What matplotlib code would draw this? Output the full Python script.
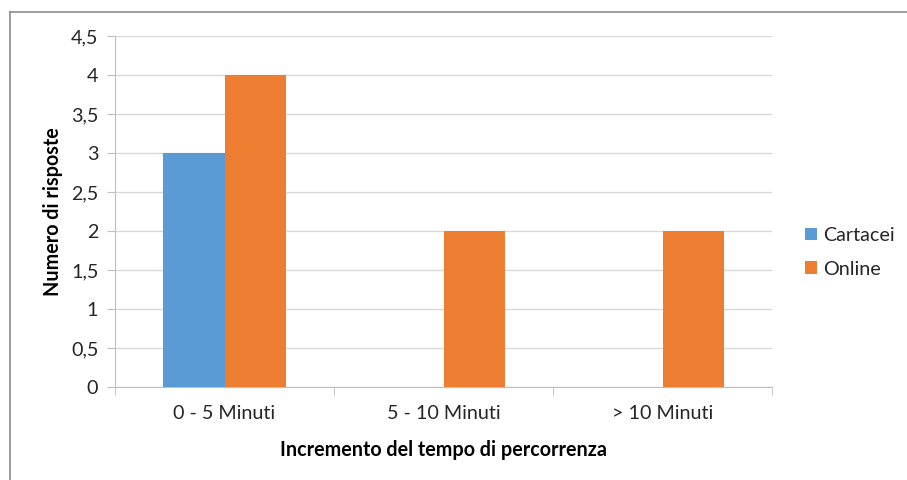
import numpy as np
import matplotlib
matplotlib.use('Agg')
import matplotlib.pyplot as plt
from matplotlib.lines import Line2D

plt.rcParams['font.family'] = ['Lato', 'DejaVu Sans']

categories = ['0 - 5 Minuti', '5 - 10 Minuti', '> 10 Minuti']
cartacei = [3, 0, 0]
online = [4, 2, 2]
y_ticks = [0, 0.5, 1, 1.5, 2, 2.5, 3, 3.5, 4, 4.5]
y_tick_labels = ['0', '0,5', '1', '1,5', '2', '2,5', '3', '3,5', '4', '4,5']

blue = '#5B9BD5'
orange = '#ED7D31'
grid_col = '#D9D9D9'
axis_col = '#BFBFBF'
text_col = '#262626'
fs = 14.2

W, H = 907, 480
fig = plt.figure(figsize=(W / 100, H / 100), dpi=100)
ax = fig.add_axes([115 / W, (H - 387) / H, (772 - 115) / W, (387 - 36) / H])

x = np.arange(len(categories))
bw = 0.283
ax.bar(x - bw / 2, cartacei, width=bw, color=blue, label='Cartacei', zorder=3)
ax.bar(x + bw / 2, online, width=bw, color=orange, label='Online', zorder=3)

ax.set_xlim(-0.5, len(categories) - 0.5)
ax.set_ylim(0, 4.5)
ax.set_yticks(y_ticks)
ax.set_yticklabels(y_tick_labels, fontsize=fs, color=text_col)
ax.set_xticks(x)
ax.set_xticklabels(categories, fontsize=fs, color=text_col)
ax.tick_params(axis='x', length=0, pad=13)
ax.tick_params(axis='y', length=6, color=axis_col, pad=6)

# category boundary ticks
ax.set_xticks(np.arange(-0.5, len(categories), 1), minor=True)
ax.tick_params(axis='x', which='minor', length=6, color=axis_col)

ax.grid(axis='y', color=grid_col, linewidth=1, zorder=0)
for side in ['top', 'right']:
    ax.spines[side].set_visible(False)
ax.spines['left'].set_color(axis_col)
ax.spines['bottom'].set_color(axis_col)

ax.set_ylabel('Numero di risposte', fontsize=fs, fontweight='bold', color='black', labelpad=6)
ax.set_xlabel('Incremento del tempo di percorrenza', fontsize=fs, fontweight='bold',
              color='black', labelpad=13)

leg = fig.legend(loc='upper left', bbox_to_anchor=(797 / W, 1 - 219 / H), frameon=False,
                 fontsize=fs, handlelength=0.6, handleheight=0.6, handletextpad=0.3,
                 labelspacing=0.85, borderaxespad=0)
for t in leg.get_texts():
    t.set_color(text_col)

# chart area border (top and left visible)
fig.add_artist(Line2D([9.5 / W, 1], [1 - 12 / H, 1 - 12 / H], color='#8C8C8C', linewidth=1.2))
fig.add_artist(Line2D([9.5 / W, 9.5 / W], [0, 1 - 12 / H], color='#8C8C8C', linewidth=1.2))

fig.savefig('out.png', dpi=100)
